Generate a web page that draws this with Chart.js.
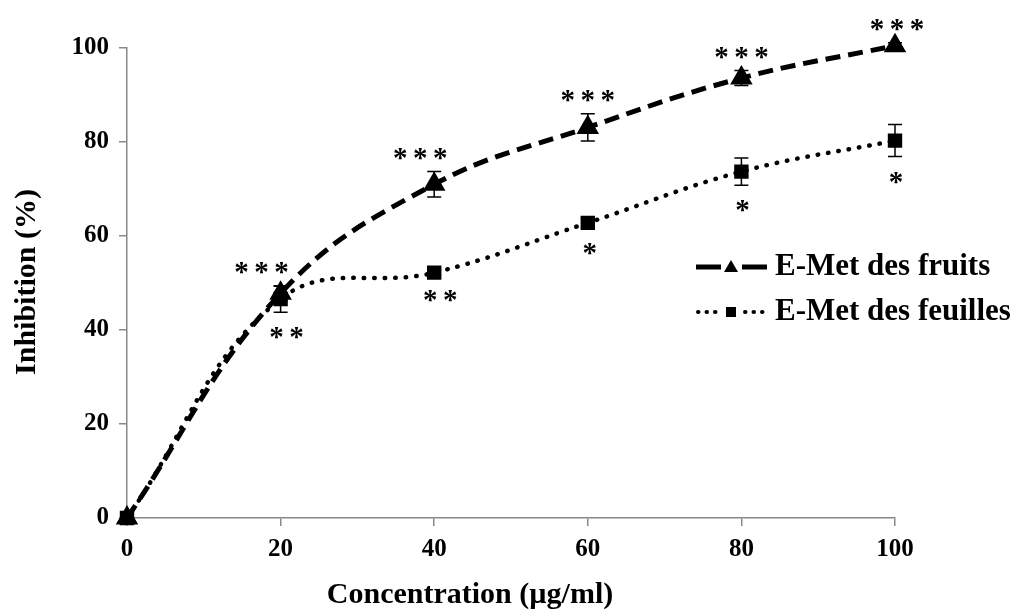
<!DOCTYPE html>
<html>
<head>
<meta charset="utf-8">
<script src="https://cdn.jsdelivr.net/npm/chart.js@4.4.0/dist/chart.umd.min.js"></script>
<style>
  html, body { margin: 0; padding: 0; background: #fff; }
  #wrap { width: 1017px; height: 612px; position: relative; }
</style>
</head>
<body>
<div id="wrap"><canvas id="chart"></canvas></div>
<script>
// values
const concentrations = [0, 20, 40, 60, 80, 100];
const fruits = [0, 47.8, 71.0, 83.1, 93.6, 100.5];
const fruitsErr = [0, 1.5, 2.7, 2.9, 1.6, 0.6];
const feuilles = [0, 46.6, 52.2, 62.8, 73.7, 80.3];
const feuillesErr = [0, 2.8, 0.5, 1.0, 2.9, 3.4];
const fruitsStars = ['', '***', '***', '***', '***', '***'];
const feuillesStars = ['', '**', '**', '*', '*', '*'];
const seriesNames = ['E-Met des fruits', 'E-Met des feuilles'];
const xTitle = 'Concentration (\u00b5g/ml)';
const yTitle = 'Inhibition (%)';

const FONT = "'Liberation Serif', 'Times New Roman', serif";
Chart.defaults.font.family = FONT;
Chart.defaults.color = '#000';

function toPoints(ys) {
    return concentrations.map((x, i) => ({ x: x, y: ys[i] }));
}

const errors = [fruitsErr, feuillesErr];
const stars = [fruitsStars, feuillesStars];
// small sideways nudges of the star labels, as in the figure
const starNudge = [[0, -19, -14, 0, 0, 2], [0, 6, 6, 2, 1, 1]];

const extras = {
    id: 'extras',
    afterDatasetsDraw(chart) {
        const ctx = chart.ctx;
        const ys = chart.scales.y;
        ctx.save();
        // error bars
        chart.data.datasets.forEach((ds, i) => {
            const meta = chart.getDatasetMeta(i);
            meta.data.forEach((pt, j) => {
                const v = ds.data[j].y, e = errors[i][j];
                if (!e) return;
                const top = ys.getPixelForValue(v + e);
                const bot = ys.getPixelForValue(v - e);
                ctx.strokeStyle = '#000';
                ctx.lineWidth = 1.5;
                ctx.setLineDash([]);
                ctx.beginPath();
                ctx.moveTo(pt.x, top); ctx.lineTo(pt.x, bot);
                ctx.moveTo(pt.x - 7, top); ctx.lineTo(pt.x + 7, top);
                ctx.moveTo(pt.x - 7, bot); ctx.lineTo(pt.x + 7, bot);
                ctx.stroke();
            });
        });
        // significance stars
        ctx.font = 'bold 29px ' + FONT;
        ctx.fillStyle = '#000';
        ctx.textAlign = 'center';
        ctx.textBaseline = 'alphabetic';
        const m = ctx.measureText('*');
        const shift = (m.actualBoundingBoxAscent - m.actualBoundingBoxDescent) / 2;
        chart.data.datasets.forEach((ds, i) => {
            const meta = chart.getDatasetMeta(i);
            meta.data.forEach((pt, j) => {
                const s = stars[i][j];
                if (!s) return;
                const v = ds.data[j].y, e = errors[i][j];
                const cy = i === 0 ? ys.getPixelForValue(v + e) - 18 : ys.getPixelForValue(v - e) + 21;
                const cx = pt.x + starNudge[i][j];
                for (let k = 0; k < s.length; k++) {
                    ctx.fillText('*', cx + (k - (s.length - 1) / 2) * 20, cy + shift);
                }
            });
        });
        ctx.restore();
    },
    afterDraw(chart) {
        const ctx = chart.ctx;
        ctx.save();
        // axis titles
        ctx.fillStyle = '#000';
        ctx.font = 'bold 30px ' + FONT;
        ctx.textAlign = 'center';
        ctx.textBaseline = 'middle';
        ctx.fillText(xTitle, 470, 595);
        ctx.translate(27, 282);
        ctx.rotate(-Math.PI / 2);
        ctx.fillText(yTitle, 0, 0);
        ctx.restore();

        // legend
        ctx.save();
        const rows = [267, 312];
        chart.data.datasets.forEach((ds, i) => {
            const y = rows[i];
            ctx.strokeStyle = '#000';
            ctx.fillStyle = '#000';
            if (i === 0) {
                ctx.lineWidth = 5;
                ctx.setLineDash([]);
                ctx.beginPath();
                ctx.moveTo(696, y); ctx.lineTo(721, y);
                ctx.moveTo(742, y); ctx.lineTo(767, y);
                ctx.stroke();
                ctx.beginPath();
                ctx.moveTo(731, y - 7); ctx.lineTo(738, y + 5); ctx.lineTo(724, y + 5);
                ctx.closePath(); ctx.fill();
            } else {
                ctx.lineWidth = 4;
                ctx.lineCap = 'round';
                ctx.setLineDash([0.5, 8]);
                ctx.beginPath();
                ctx.moveTo(698, y); ctx.lineTo(718, y);
                ctx.moveTo(745, y); ctx.lineTo(767, y);
                ctx.stroke();
                ctx.setLineDash([]);
                ctx.fillRect(726, y - 5, 10, 10);
            }
            ctx.font = 'bold 31px ' + FONT;
            ctx.textAlign = 'left';
            ctx.textBaseline = 'middle';
            ctx.fillText(ds.label, 775, y);
        });
        ctx.restore();
    }
};

const axisStyle = {
    min: 0, max: 100,
    grid: { drawOnChartArea: false, drawTicks: true, tickLength: 8, color: '#888', lineWidth: 1.5 },
    border: { color: '#888', width: 1.5 },
    ticks: { stepSize: 20, font: { size: 25, weight: 'bold' }, color: '#000' }
};

new Chart(document.getElementById('chart'), {
    type: 'line',
    data: {
        datasets: [
            {
                label: seriesNames[0],
                data: toPoints(fruits),
                borderColor: '#000',
                backgroundColor: '#000',
                borderWidth: 5,
                borderDash: [15, 8],
                tension: 0.4,
                pointStyle: 'triangle',
                pointRadius: 8,
                clip: false
            },
            {
                label: seriesNames[1],
                data: toPoints(feuilles),
                borderColor: '#000',
                backgroundColor: '#000',
                borderWidth: 4.5,
                borderDash: [0.5, 10],
                borderCapStyle: 'round',
                tension: 0.4,
                pointStyle: 'rect',
                pointRadius: 7,
                clip: false
            }
        ]
    },
    options: {
        responsive: true,
        maintainAspectRatio: false,
        animation: false,
        layout: { padding: { top: 48, right: 122, left: 0, bottom: 0 } },
        plugins: { legend: { display: false }, tooltip: { enabled: false } },
        scales: {
            x: Object.assign({}, axisStyle, {
                type: 'linear',
                ticks: Object.assign({}, axisStyle.ticks, { padding: 9 }),
                afterFit(scale) { scale.height = 94; }
            }),
            y: Object.assign({}, axisStyle, {
                ticks: Object.assign({}, axisStyle.ticks, { padding: 10 }),
                afterFit(scale) { scale.width = 127; }
            })
        }
    },
    plugins: [extras]
});
</script>
</body>
</html>
